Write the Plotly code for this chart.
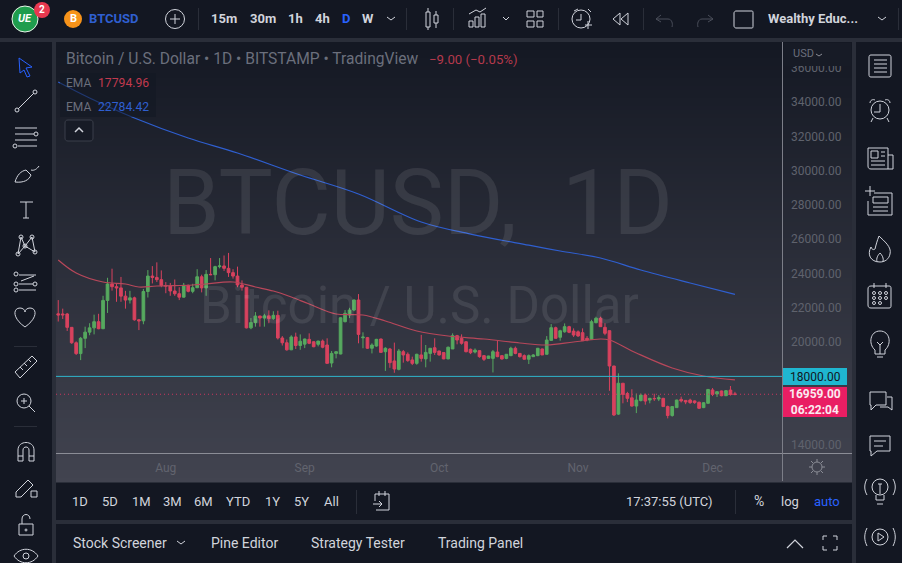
import pandas as pd
from plotly import graph_objects as go

## data

first_day = "2022-07-08"

opens = [
    # jul
    21650, 21640, 21640, 20860, 19960, 19330, 20220, 20580, 20830, 21190, 20780, 22430,
    23390, 23230, 23160, 22680, 22450, 22580, 21300, 21240, 22950, 23850, 23770, 23640,
    # aug
    23300, 23270, 22980, 22820, 22620, 23310, 22960, 23170, 23810, 23160, 23950, 23930, 24400, 24440, 24300, 24050,
    23850, 23330, 23200, 20830, 21140, 21520, 21400, 21530, 21370, 21560, 20240, 19960, 19550, 20300, 19800,
    # sep
    19880, 20160, 20020, 19870, 20060, 19830, 18780, 19340, 19305, 21190, 21580, 21870, 22455, 20250, 20260,
    19640, 19770, 20180, 19440, 19600, 18900, 18410, 19440, 19290, 18960, 18760, 19250, 19020, 19340, 19670,
    # oct
    19480, 19390, 19020, 19600, 20375, 20220, 20020, 19580, 19420, 19500, 19210, 19050, 19050, 19420, 19210, 19050,
    19210, 19640, 19340, 19210, 19000, 19150, 19210, 19600, 19290, 20100, 20840, 20280, 20600, 20900, 20640,
    # nov
    20600, 20550, 20220, 20160, 21130, 21390, 20860, 20665, 18605, 15800, 17600, 17000, 16750, 16270, 16590,
    16910, 16620, 16710, 16680, 16720, 16240, 15720, 16180, 16660, 16600, 16620, 16570, 16490, 16180, 16430,
    # dec
    17210, 16970, 17150, 16875, 17200, 16968,
]
highs = [
    22450, 21950, 21700, 20870, 20040, 20300, 20900, 21100, 21600, 21650, 22700, 23750,
    24280, 23430, 23800, 22990, 22990, 22650, 21350, 23100, 24200, 24430, 24650, 24180,
    23500, 23450, 23650, 23200, 23450, 23350, 23400, 24250, 23930, 24200, 24900, 24450, 24900, 25050, 25200, 24250,
    24400, 23600, 23220, 21400, 21750, 21530, 21650, 21850, 21800, 21830, 20350, 20150, 20400, 20550, 20450,
    20200, 20510, 20050, 20080, 20150, 20220, 19480, 19450, 21450, 21870, 22000, 22480, 22800, 20570, 20300,
    19930, 20190, 20200, 19700, 19660, 19970, 19600, 19540, 19400, 19150, 19320, 20420, 19830, 19650, 20220,
    19500, 19400, 19740, 20510, 20420, 20450, 20050, 19620, 19630, 19520, 19250, 19200, 19540, 20080, 19230, 19300,
    19730, 19740, 19350, 19280, 19280, 19300, 19660, 19620, 20350, 21050, 20900, 20720, 21090, 20950, 20800,
    20680, 20800, 20350, 21300, 21480, 21480, 21100, 20670, 18620, 18180, 17620, 17100, 17250, 17000, 17000,
    17000, 16750, 16990, 16900, 16750, 16300, 16260, 16640, 16820, 16620, 16700, 16600, 16530, 16500, 17250,
    17320, 17110, 17170, 17200, 17440, 17100,
]
lows = [
    21200, 21350, 20650, 19900, 19250, 18950, 19650, 20400, 20450, 20750, 20760, 21700,
    23000, 22350, 22350, 21950, 22250, 21250, 20700, 21040, 22600, 23420, 23500, 23200,
    22850, 22700, 22700, 22450, 22600, 22900, 22850, 23150, 22900, 22700, 23900, 23600, 24300, 24150, 23800, 23700,
    23200, 23000, 20800, 20750, 20900, 20900, 20900, 21100, 21300, 20150, 19800, 19500, 19530, 19600, 19550,
    19650, 19880, 19700, 19750, 19640, 18760, 18530, 19050, 19290, 21150, 21400, 21800, 19930, 19640, 19600,
    19340, 19730, 19400, 18320, 18500, 18210, 18350, 18800, 18850, 18660, 18680, 18860, 18530, 18860, 19250,
    19210, 19000, 19000, 19600, 19870, 19850, 19400, 19300, 19340, 19090, 18900, 19040, 18230, 19120, 18980, 19000,
    19180, 19290, 19100, 18980, 18720, 19130, 19180, 19250, 19280, 20080, 20220, 20080, 20550, 20520, 20300,
    20300, 20080, 20050, 20150, 21100, 20900, 20400, 17160, 15690, 15750, 16430, 16500, 16240, 15860, 16540,
    16350, 16430, 16570, 16560, 16230, 15550, 15650, 16170, 16480, 16380, 16400, 16400, 16100, 16150, 16420,
    16850, 16800, 16840, 16850, 16880, 16900,
]
closes = [
    21580, 21590, 20860, 19960, 19330, 20220, 20580, 20830, 21190, 20780, 22430, 23390,
    23230, 23160, 22680, 22450, 22580, 21300, 21240, 22950, 23850, 23770, 23640, 23300,
    23270, 22980, 22820, 22620, 23310, 22960, 23170, 23810, 23160, 23950, 23930, 24400, 24440, 24300, 24050, 23850,
    23330, 23200, 20830, 21140, 21520, 21400, 21530, 21370, 21560, 20240, 19960, 19550, 20300, 19800, 20050,
    20180, 19930, 19730, 20060, 19700, 18760, 19340, 19440, 21420, 21680, 21870, 22455, 20450, 20290, 19640,
    19830, 20160, 19400, 19640, 18800, 18430, 19480, 19250, 18920, 18760, 19290, 19050, 19400, 19640, 19400,
    19250, 19020, 19700, 20375, 20120, 19930, 19440, 19380, 19530, 19150, 18995, 19190, 19440, 19150, 19015, 19290,
    19640, 19340, 19150, 19000, 19210, 19250, 19640, 19250, 20120, 20840, 20220, 20660, 20900, 20570, 20410,
    20360, 20080, 20120, 21190, 21390, 20900, 20510, 18605, 15750, 17600, 16950, 16720, 16270, 16620, 16910,
    16560, 16720, 16700, 16760, 16240, 15720, 16240, 16620, 16570, 16510, 16470, 16470, 16140, 16465, 17240,
    16950, 17110, 16875, 17170, 16950, 16959,
]

ema_fast_dates = ["2022-07-08", "2022-07-12", "2022-07-18", "2022-07-23", "2022-07-26", "2022-07-30", "2022-08-07",
                  "2022-08-10", "2022-08-16", "2022-08-21", "2022-08-25", "2022-08-29", "2022-09-02", "2022-09-08",
                  "2022-09-14", "2022-09-19", "2022-09-26", "2022-10-03", "2022-10-11", "2022-10-19", "2022-10-25",
                  "2022-10-31", "2022-11-06", "2022-11-08", "2022-11-14", "2022-11-22", "2022-11-29", "2022-12-06"]
ema_fast = [24787, 24029, 23504, 23388, 23213, 23271, 23329,
            23388, 23504, 23213, 22979, 22630, 22221, 21638,
            21580, 21230, 20647, 20355, 20181, 19947, 19831,
            20006, 20181, 20122, 19364, 18490, 18023, 17795]

ema_slow_dates = ["2022-07-08", "2022-07-15", "2022-07-25", "2022-08-06", "2022-08-17", "2022-08-31", "2022-09-13",
                  "2022-09-27", "2022-10-08", "2022-10-21", "2022-10-28", "2022-11-06", "2022-11-15", "2022-11-26",
                  "2022-12-06"]
ema_slow = [35166, 34233, 33067, 31900, 31026, 29743, 28635,
            27003, 26300, 25650, 25312, 24904, 24204, 23446,
            22784]

# 18000 and 16000 sit under the price tags in the screenshot, so they are not on the axis
price_ticks = [36000, 34000, 32000, 30000, 28000, 26000, 24000, 22000, 20000, 14000]
month_ticks = ["2022-08-01", "2022-09-01", "2022-10-01", "2022-11-01", "2022-12-01"]
month_names = ["Aug", "Sep", "Oct", "Nov", "Dec"]

assert len(opens) == len(highs) == len(lows) == len(closes) == 152

dates = pd.date_range(first_day, periods=len(closes), freq="D")

## page geometry and colours

W, H = 902, 563
PANEL = "#131722"
GAP = "#2a2e39"
ICON = "#d1d4dc"
BLUE = "#2962ff"
GREEN = "#56a95f"
RED = "#d8425e"
FONT = "Roboto"


def fx(x):
    return x / W


def fy(y):
    return 1 - y / H


def rect(x0, y0, x1, y1, fill, layer="below"):
    return dict(type="rect", xref="paper", yref="paper", x0=fx(x0), x1=fx(x1), y0=fy(y0), y1=fy(y1),
                fillcolor=fill, line_width=0, layer=layer)


def icon(d, color=ICON, width=1, fill=None):
    """Line icon, path given in page pixels"""
    return dict(type="path", xref="x2", yref="y2", path=d, line=dict(color=color, width=width),
                fillcolor=fill or "rgba(0,0,0,0)", layer="above")


def circ(cx, cy, r, color=ICON, width=1, fill=None):
    return dict(type="circle", xref="x2", yref="y2", x0=cx - r, x1=cx + r, y0=cy - r, y1=cy + r,
                line=dict(color=color, width=width), fillcolor=fill or "rgba(0,0,0,0)", layer="above")


def label(x, y, text, color="#d1d4dc", size=13, anchor="left", family=FONT):
    return dict(text=text, x=fx(x), y=fy(y), xref="paper", yref="paper", showarrow=False, xanchor=anchor,
                yanchor="middle", borderpad=0, font=dict(color=color, size=size, family=family))


def panel_gradient():
    # the chart panel goes from nearly black at the top to grey at the bottom
    bands = []
    top, bottom = (20, 24, 35), (66, 68, 80)
    y = 42
    while y < 481:
        t = (y - 42) / (481 - 42)
        c = [round(a + (b - a) * t) for a, b in zip(top, bottom)]
        bands.append(rect(56, y, 852, y + 4, "rgb(%d,%d,%d)" % tuple(c)))
        y += 4
    return bands


shapes = [
    rect(0, 0, W, 38, PANEL),
    rect(0, 42, 52, H, PANEL),
    rect(856, 42, W, H, PANEL),
    rect(56, 483, 852, 520, PANEL),
    rect(56, 524, 852, H, PANEL),
]
shapes += panel_gradient()

# levels and frame of the chart
shapes += [
    dict(type="line", xref="paper", yref="y", x0=fx(56), x1=fx(782), y0=18000, y1=18000,
         line=dict(color="#2fb6cc", width=1), layer="above"),
    dict(type="line", xref="paper", yref="y", x0=fx(56), x1=fx(782), y0=16959, y1=16959,
         line=dict(color="#c9375f", width=1, dash="1px,3px"), layer="above"),
    rect(56, 453, 852, 454, "#8b8d96", "above"),
    rect(782, 42, 783, 481, "#7c7e88", "above"),
    rect(784, 43, 851, 66, "#171b26", "above"),
    rect(783, 368, 847, 385, "#1fb6d0", "above"),
    rect(783, 387, 847, 417, "#e91e63", "above"),
    rect(60, 73, 156, 117, "rgba(19,23,34,0.55)", "above"),
]

# separators in the bars
for sx, y0, y1 in [(198, 8, 30), (406, 8, 30), (453, 8, 30), (558, 8, 30), (643, 8, 30), (898, 8, 30),
                   (356, 490, 514), (735, 490, 514)]:
    shapes.append(rect(sx, y0, sx + 1, y1, GAP, "above"))
shapes.append(rect(14, 346, 37, 347, GAP, "above"))
shapes.append(rect(14, 426, 37, 427, GAP, "above"))

## icons: top bar
shapes += [
    circ(25, 19, 13, "#e8f5e9", 1, "#1f9d4d"),
    circ(42, 10, 8, "#e8384f", 0, "#e8384f"),
    circ(73, 19, 9, "#f7931a", 0, "#f7931a"),
    circ(175, 19, 9.5, ICON),
    icon("M170 19 H180 M175 14 V24"),
    # candles
    icon("M426 12 H430 V27 H426 Z M428 8 V12 M428 27 V30 M434 15 H438 V23 H434 Z M436 11 V15 M436 23 V28"),
    # indicators
    icon("M469 27 H473 V21 H469 Z M475 27 H479 V17 H475 Z M481 27 H485 V14 H481 Z M469 14 L476 10 L480 12 L486 8"),
    icon("M503 17 L506 20 L509 17"),
    # layouts
    icon("M527 11 H534 V17 H527 Z M537 11 H543 V17 H537 Z M527 21 H534 V27 H527 Z M537 21 H543 V27 H537 Z"),
    # alarm with plus
    circ(581, 19, 9),
    icon("M581 14 V20 H576 M574 11 L578 9 M588 9 L591 12 M585 25 H592 M588 21 V29"),
    # replay
    icon("M620 13 L613 19 L620 25 Z M628 13 L621 19 L628 25 Z"),
    # undo, redo
    icon("M661 15 L656 19 L661 22 M656 19 H668 C672 19 673 24 672 27", "#4a4e5a"),
    icon("M708 15 L713 19 L708 22 M713 19 H702 C698 19 697 24 698 27", "#4a4e5a"),
    # layout box
    icon("M736 11 H752 C753 11 753 12 753 13 V26 C753 27 753 28 752 28 H736 C735 28 734 27 734 26 V13 C734 12 735 11 736 11 Z"),
    icon("M878 17 L882 20 L886 17"),
    icon("M387 17 L391 20 L395 17"),
]

## icons: left bar
shapes += [
    icon("M19 58 L32 67 L26 68 L30 76 L27 77 L24 70 L20 73 Z", BLUE),
    icon("M18 109 L34 93"),
    circ(17, 110, 2), circ(35, 92, 2),
    icon("M15 128 H37 M15 134 H34 M15 140 H37 M18 146 H37"),
    circ(36, 134, 2), circ(15, 146, 2),
    icon("M15 182 C17 175 21 171 26 170 L31 175 C29 180 24 183 15 182 Z M31 170 C34 171 37 169 39 166"),
    icon("M20 202 H33 M26 202 V218 M23 218 H29"),
    icon("M18 254 L21 237 L25 246 L32 237 L35 252 L25 246 L18 254"),
    circ(18, 254, 2), circ(21, 237, 2), circ(32, 237, 2), circ(35, 252, 2), circ(25, 246, 2),
    icon("M19 275 H36 M19 284 H33 M19 290 H36 M21 281 L34 276"),
    circ(16, 274, 2), circ(16, 284, 2), circ(35, 284, 2), circ(16, 290, 2),
    icon("M25 327 C12 318 13 308 20 308 C23 308 25 310 25 312 C25 310 27 308 30 308 C37 308 38 318 25 327 Z"),
    icon("M15 372 L32 356 L37 361 L20 378 Z M20 367 L23 370 M24 363 L27 366 M28 359 L31 362"),
    circ(24, 401, 7),
    icon("M29 406 L35 412 M21 401 H27 M24 398 V404"),
    icon("M18 461 V450 C18 440 34 440 34 450 V461 H29 V450 C29 446 23 446 23 450 V461 Z M18 456 H23 M29 456 H34"),
    icon("M16 492 L28 480 L33 485 L21 497 L16 497 Z M31 491 H37 V497 H31 Z"),
    icon("M19 524 H33 V535 H19 Z M22 524 V519 C22 513 30 513 30 519"),
    circ(26, 530, 1),
    icon("M14 556 C20 547 32 547 38 556 C32 565 20 565 14 556 Z"),
    circ(26, 556, 3),
]

## icons: right bar
shapes += [
    icon("M871 55 H889 C891 55 891 56 891 58 V74 C891 76 891 77 889 77 H871 C869 77 869 76 869 74 V58 C869 56 869 55 871 55 Z"),
    icon("M874 60 H887 M874 64 H887 M874 68 H887 M874 72 H887"),
    circ(880, 110, 9),
    icon("M880 104 V112 H874 M870 103 C870 100 873 99 875 100 M890 103 C890 100 887 99 885 100 M873 118 L871 122 M887 118 L889 122"),
    icon("M868 148 H888 V169 H871 C869 169 868 168 868 166 Z M888 155 H893 V169 H888 M871 151 H878 V158 H871 Z M881 152 H885 M881 156 H885 M871 161 H885 M871 165 H885"),
    icon("M874 193 H892 V215 H868 V201 M865 191 H875 M870 186 V196 M873 197 H888 V203 H873 Z M873 207 H888 M873 211 H888"),
    icon("M880 262 C870 262 867 254 871 247 C872 250 874 250 875 249 C876 245 877 241 879 236 C884 241 892 247 890 254 C889 259 885 262 880 262 Z M877 262 C876 258 878 255 880 253 C882 255 884 258 883 262"),
    icon("M871 286 H889 C891 286 891 287 891 289 V305 C891 307 891 308 889 308 H871 C869 308 868 307 868 305 V289 C868 287 869 286 871 286 Z M874 283 V288 M886 283 V288"),
    circ(874, 293, 1.5), circ(880, 293, 1.5), circ(886, 293, 1.5),
    circ(874, 298, 1.5), circ(880, 298, 1.5), circ(886, 298, 1.5),
    circ(874, 303, 1.5), circ(880, 303, 1.5),
    icon("M875 350 C868 344 870 331 880 331 C890 331 892 344 885 350 V354 H875 Z M877 357 H883 M880 354 V345 M877 342 L880 345 L883 342"),
    icon("M870 392 H886 V405 H876 L871 410 V405 H870 Z M887 397 H892 V410 L888 407 H880"),
    icon("M870 436 H890 V451 H877 L871 456 V451 H870 Z M874 441 H886 M874 446 H883"),
    circ(880, 487, 8),
    icon("M876 495 V500 H884 V495 M877 504 H883 M878 484 H882 M880 484 V494 M867 479 C864 484 864 490 867 495 M893 479 C896 484 896 490 893 495"),
    circ(880, 537, 8),
    icon("M878 533 L884 537 L878 541 Z M867 528 C864 534 864 540 867 546 M893 528 C896 534 896 540 893 546"),
]

## icons: chart and bottom bars
shapes += [
    icon("M68 120 H90 C92 120 93 121 93 123 V138 C93 140 92 141 90 141 H68 C66 141 65 140 65 138 V123 C65 121 66 120 68 120 Z", "#3b3f4b", 1, "#171b26"),
    icon("M75 132 L79 128 L83 132", ICON, 1.5),
    icon("M816 54 L819 56 L822 54", "#8b8d96"),
    circ(817, 467, 5, "#8b8d96"),
    icon("M817 459 V462 M817 472 V475 M809 467 H812 M822 467 H825 M811 461 L813 463 M821 471 L823 473 M811 473 L813 471 M821 463 L823 461", "#8b8d96"),
    icon("M375 494 H389 V510 H376 M375 494 V501 M379 491 V496 M385 491 V496 M373 504 H382 M379 501 L382 504 L379 507"),
    icon("M177 541 L181 544 L185 541"),
    icon("M787 548 L795 540 L803 548", ICON, 1.2),
    icon("M823 540 V536 H827 M833 536 H837 V540 M837 546 V550 H833 M827 550 H823 V546"),
]

annotations = [
    # watermark
    label(418, 203, "BTCUSD,\u00a0\u00a01D", "rgba(255,255,255,0.09)", 91, "center"),
    label(419, 305, "Bitcoin / U.S. Dollar", "rgba(255,255,255,0.09)", 51, "center"),
    # legend
    label(65, 59, "Bitcoin / U.S. Dollar • 1D • BITSTAMP • TradingView", "#6b6f7c", 15.6),
    label(428, 59, "−9.00 (−0.05%)", "#b4394c", 13.2),
    label(65, 83, "EMA", "#6b6f7c", 12),
    label(97, 83, "17794.96", "#c23a4f", 12.2),
    label(65, 107, "EMA", "#6b6f7c", 12),
    label(97, 107, "22784.42", "#2f5fd0", 12.2),
    # price axis tags
    label(792, 54, "USD", "#6b6f7c", 11),
    label(815, 376.5, "18000.00", "#131722", 12, "center"),
    label(815, 402, "<b>16959.00</b><br><b>06:22:04</b>", "#fbeaf0", 12, "center"),
    # top bar
    label(25, 19, "<b><i>UE</i></b>", "#ffffff", 11, "center"),
    label(42, 10, "<b>2</b>", "#ffffff", 10, "center"),
    label(73, 19, "<b>B</b>", "#ffffff", 11, "center"),
    label(88, 19, "<b>BTCUSD</b>", "#2f5fd0", 13),
    label(224, 19, "<b>15m</b>", ICON, 13, "center"),
    label(263, 19, "<b>30m</b>", ICON, 13, "center"),
    label(295, 19, "<b>1h</b>", ICON, 13, "center"),
    label(322, 19, "<b>4h</b>", ICON, 13, "center"),
    label(346, 19, "<b>D</b>", BLUE, 13, "center"),
    label(368, 19, "<b>W</b>", ICON, 13, "center"),
    label(767, 19, "<b>Wealthy Educ...</b>", ICON, 13),
]
# bottom bars
for x, t in zip([80, 110, 141, 172, 203, 238, 272, 301, 331],
                ["1D", "5D", "1M", "3M", "6M", "YTD", "1Y", "5Y", "All"]):
    annotations.append(label(x, 501, t, ICON, 13, "center"))
annotations += [
    label(625, 501, "17:37:55 (UTC)", ICON, 13),
    label(759, 501, "%", ICON, 14, "center"),
    label(790, 501, "log", ICON, 13, "center"),
    label(827, 501, "auto", BLUE, 13, "center"),
    label(72, 543, "Stock Screener", ICON, 14),
    label(210, 543, "Pine Editor", ICON, 14),
    label(310, 543, "Strategy Tester", ICON, 14),
    label(437, 543, "Trading Panel", ICON, 14),
]

## chart

fig = go.Figure()
fig.add_trace(go.Candlestick(x=dates, open=opens, high=highs, low=lows, close=closes, name="BTCUSD",
                             increasing=dict(line=dict(color=GREEN, width=1), fillcolor=GREEN),
                             decreasing=dict(line=dict(color=RED, width=1), fillcolor=RED),
                             whiskerwidth=0))
fig.add_trace(go.Scatter(x=pd.to_datetime(ema_fast_dates), y=ema_fast, mode="lines", name="EMA",
                         line=dict(color="#b8475a", width=1.2, shape="spline")))
fig.add_trace(go.Scatter(x=pd.to_datetime(ema_slow_dates), y=ema_slow, mode="lines", name="EMA",
                         line=dict(color="#2f5fd0", width=1.2, shape="spline")))

fig.update_layout(
    width=W, height=H, margin=dict(l=0, r=0, t=0, b=0), showlegend=False, boxgap=0.15,
    paper_bgcolor=GAP, plot_bgcolor="rgba(0,0,0,0)",
    xaxis=dict(domain=[fx(56), fx(782)], type="date", range=["2022-07-07 12:00", "2022-12-16 12:00"],
               rangeslider_visible=False, showgrid=False, zeroline=False, showline=False,
               tickmode="array", tickvals=month_ticks, ticktext=month_names, ticks="", ticklabelstandoff=6,
               tickfont=dict(color="#62646e", size=12, family=FONT)),
    yaxis=dict(domain=[fy(453), fy(42)], range=[13533, 37499], side="right", showgrid=False, zeroline=False,
               tickmode="array", tickvals=price_ticks, ticktext=["%.2f" % p for p in price_ticks], ticks="",
               ticklabelstandoff=8, tickfont=dict(color="#5f626d", size=12, family=FONT)),
    # page pixel axes, only the icons use them
    xaxis2=dict(domain=[0, 1], range=[0, W], visible=False, fixedrange=True, anchor="y2"),
    yaxis2=dict(domain=[0, 1], range=[H, 0], visible=False, fixedrange=True, anchor="x2"),
    shapes=shapes, annotations=annotations,
)

fig.write_html("out.html", config=dict(displayModeBar=False),
               post_script="document.body.style.margin='0';document.body.style.overflow='hidden';")
